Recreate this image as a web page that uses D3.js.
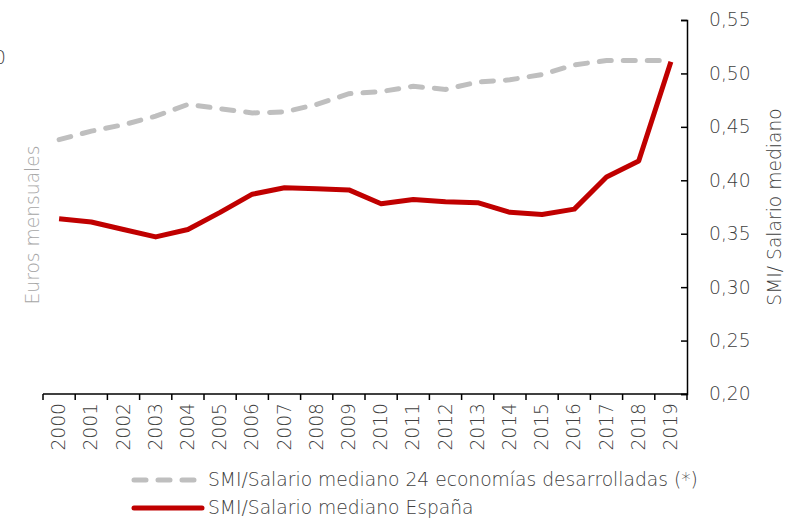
<!DOCTYPE html>
<html>
<head>
<meta charset="utf-8">
<script src="https://cdn.jsdelivr.net/npm/d3@7"></script>
<style>
  body { margin: 0; background: #fff; }
  svg text { font-family: "DejaVu Sans", sans-serif; font-weight: 200; fill: #404040; }
</style>
</head>
<body>
<svg width="800" height="520"></svg>
<script>
const years = ['2000','2001','2002','2003','2004','2005','2006','2007','2008','2009',
               '2010','2011','2012','2013','2014','2015','2016','2017','2018','2019'];
const oecd24 = [0.438,0.446,0.452,0.460,0.471,0.467,0.463,0.464,0.471,0.481,
                0.483,0.488,0.485,0.492,0.494,0.499,0.508,0.512,0.512,0.512];
const spain = [0.364,0.361,0.354,0.347,0.354,0.370,0.387,0.393,0.392,0.391,
               0.378,0.382,0.380,0.379,0.370,0.368,0.373,0.403,0.418,0.511];
const yTicks = [0.20,0.25,0.30,0.35,0.40,0.45,0.50,0.55];
const legendLabels = ['SMI/Salario mediano 24 economías desarrolladas (*)', 'SMI/Salario mediano España'];

const svg = d3.select('svg');
const plotLeft = 43, plotRight = 687, plotTop = 20, plotBottom = 394;
const fs = 18.7;

const x = d3.scaleBand().domain(years).range([plotLeft, plotRight]);
const y = d3.scaleLinear().domain([0.20, 0.55]).range([plotBottom, plotTop]);
const fmt = d => d.toFixed(2).replace('.', ',');

// eje derecho
const yAxis = svg.append('g')
    .attr('transform', `translate(${plotRight},0)`)
    .call(d3.axisRight(y).tickValues(yTicks).tickFormat(fmt).tickSizeInner(-6).tickSizeOuter(-6).tickPadding(22));
yAxis.select('.domain').attr('stroke', '#000').attr('stroke-width', 1.5);
yAxis.selectAll('.tick line').attr('stroke', '#000').attr('stroke-width', 1.5);
yAxis.selectAll('.tick text').attr('font-size', fs).attr('fill', '#404040')
    .style('font-family', '"DejaVu Sans", sans-serif').style('font-weight', 200);

// eje x
svg.append('line').attr('x1', plotLeft).attr('x2', plotRight).attr('y1', plotBottom).attr('y2', plotBottom)
    .attr('stroke', '#000').attr('stroke-width', 1.5);
const bounds = years.map(d => x(d)).concat([plotRight]);
svg.selectAll('.xtick').data(bounds).join('line')
    .attr('x1', d => d).attr('x2', d => d)
    .attr('y1', plotBottom).attr('y2', plotBottom + 6)
    .attr('stroke', '#000').attr('stroke-width', 1.5);
svg.selectAll('.xlab').data(years).join('text')
    .attr('transform', d => `translate(${x(d) + x.bandwidth() / 2 + 6},${plotBottom + 9}) rotate(-90)`)
    .attr('text-anchor', 'end')
    .attr('font-size', fs)
    .text(d => d);

// lineas
const line = data => d3.line()
    .x((d, i) => x(years[i]) + x.bandwidth() / 2)
    .y(d => y(d))(data);

svg.append('path').attr('d', line(oecd24))
    .attr('fill', 'none').attr('stroke', '#bfbfbf').attr('stroke-width', 5)
    .attr('stroke-dasharray', '12,12').attr('stroke-linecap', 'round');
svg.append('path').attr('d', line(spain))
    .attr('fill', 'none').attr('stroke', '#c00000').attr('stroke-width', 5)
    .attr('stroke-linejoin', 'round');

// titulos
svg.append('text')
    .attr('transform', 'translate(781,207) rotate(-90)')
    .attr('text-anchor', 'middle').attr('font-size', fs)
    .text('SMI/ Salario mediano');
svg.append('text')
    .attr('transform', 'translate(39,225) rotate(-90)')
    .attr('text-anchor', 'middle').attr('font-size', fs).style('fill', '#a6a6a6')
    .text('Euros mensuales');
svg.append('text').attr('x', 6).attr('y', 64).attr('text-anchor', 'end')
    .attr('font-size', fs).text('0');

// leyenda
const legend = svg.append('g');
legend.append('line').attr('x1', 134).attr('x2', 197).attr('y1', 480).attr('y2', 480)
    .attr('stroke', '#bfbfbf').attr('stroke-width', 5)
    .attr('stroke-dasharray', '12,12').attr('stroke-linecap', 'round');
legend.append('line').attr('x1', 134).attr('x2', 202).attr('y1', 508).attr('y2', 508)
    .attr('stroke', '#c00000').attr('stroke-width', 5).attr('stroke-linecap', 'round');
legend.selectAll('.lt').data(legendLabels).join('text')
    .attr('x', 208).attr('y', (d, i) => 486 + i * 28)
    .attr('font-size', fs)
    .text(d => d);
</script>
</body>
</html>
